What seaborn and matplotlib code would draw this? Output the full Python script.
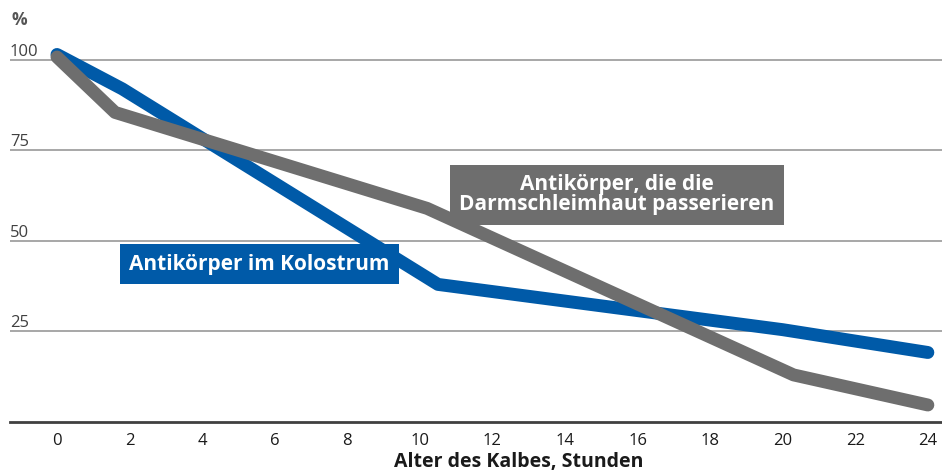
import pandas as pd
import seaborn as sns
import matplotlib.pyplot as plt

# data
hours_kolostrum = [0, 1.8, 10.5, 20, 24]
werte_kolostrum = [101.5, 92, 38, 25.5, 19.2]
hours_darm = [0, 1.6, 10.2, 20.3, 24]
werte_darm = [100.8, 85.5, 59, 13, 4.7]

x_ticks = list(range(0, 25, 2))
y_ticks = [25, 50, 75, 100]
label_kolostrum = "Antikörper im Kolostrum"
label_darm = "Antikörper, die die\nDarmschleimhaut passerieren"
x_title = "Alter des Kalbes, Stunden"
y_unit = "%"

blue = "#005AA8"
grey = "#6E6E6E"

sns.set_theme(style="white")
plt.rcParams['font.family'] = ['Open Sans', 'DejaVu Sans']

df_k = pd.DataFrame({'h': hours_kolostrum, 'v': werte_kolostrum})
df_d = pd.DataFrame({'h': hours_darm, 'v': werte_darm})

fig = plt.figure(figsize=(9.42, 4.72), dpi=100)
ax = fig.add_axes([10 / 942, 50 / 472, 932 / 942, 382 / 472])

sns.lineplot(data=df_k, x='h', y='v', sort=False, color=blue, lw=9.3,
             solid_capstyle='round', solid_joinstyle='round', ax=ax, zorder=3)
sns.lineplot(data=df_d, x='h', y='v', sort=False, color=grey, lw=9.3,
             solid_capstyle='round', solid_joinstyle='round', ax=ax, zorder=4)

ax.set_xlim(-1.295, 24.39)
ax.set_ylim(0, 105.5)

for yv in y_ticks:
    ax.axhline(yv, color='#a0a0a0', lw=1.3, zorder=1)

for s in ['top', 'right', 'left']:
    ax.spines[s].set_visible(False)
ax.spines['bottom'].set_color('#404040')
ax.spines['bottom'].set_linewidth(2)

ax.set_xticks(x_ticks)
ax.set_xticklabels([str(t) for t in x_ticks], fontsize=12, color='#1a1a1a')
ax.set_yticks(y_ticks)
ax.set_yticklabels([str(t) for t in y_ticks], fontsize=12, color='#404040')
ax.tick_params(axis='both', length=0)
ax.tick_params(axis='x', pad=8)
ax.tick_params(axis='y', pad=0)
for lab in ax.get_yticklabels():
    lab.set_horizontalalignment('left')
    lab.set_verticalalignment('bottom')

ax.set_xlabel(x_title, fontsize=14, fontweight='bold', color='#1a1a1a')
ax.xaxis.label.set_verticalalignment('center')
ax.xaxis.set_label_coords(0.546, -0.105)
ax.set_ylabel('')
fig.text(12 / 942, 1 - 20 / 472, y_unit, fontsize=12.5, fontweight='bold',
         color='#555555', ha='left', va='center')

# label boxes
ax.text(5.57, 43.6, label_kolostrum, color='white', fontsize=15, fontweight='bold',
        ha='center', va='center', zorder=6,
        bbox=dict(boxstyle='square,pad=0.45', fc=blue, ec='none'))
ax.text(15.43, 62.8, label_darm, color='white', fontsize=15, fontweight='bold',
        ha='center', va='center', zorder=6, linespacing=0.95,
        bbox=dict(boxstyle='square,pad=0.45', fc=grey, ec='none'))

fig.savefig('out.png', dpi=100)
